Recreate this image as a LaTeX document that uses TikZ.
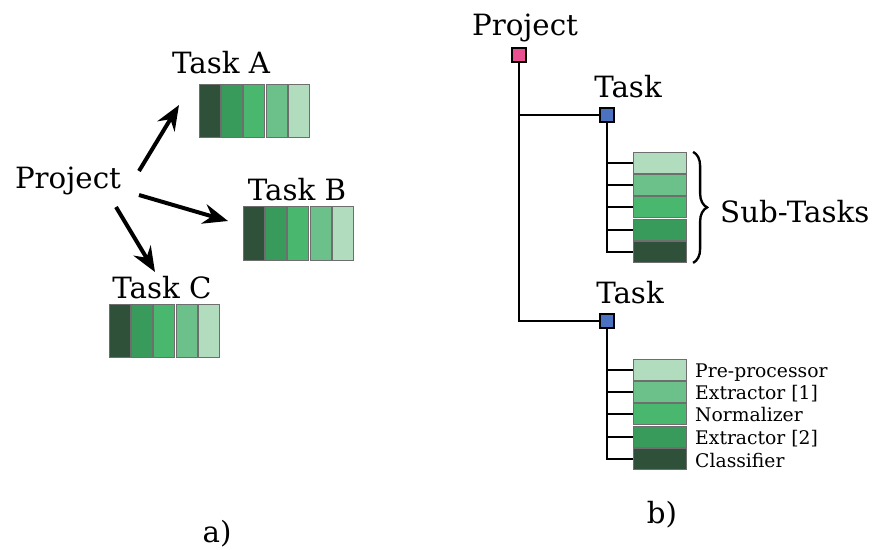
\documentclass[tikz,border=0pt]{standalone}
\usepackage{fontspec}
\setmainfont{DejaVu Serif}
\usetikzlibrary{arrows.meta,decorations.pathreplacing}

\definecolor{gA}{HTML}{2F5039}
\definecolor{gB}{HTML}{389B5B}
\definecolor{gC}{HTML}{49B86E}
\definecolor{gD}{HTML}{6CC18B}
\definecolor{gE}{HTML}{B1DCBD}
\definecolor{rim}{HTML}{6E6E6E}
\definecolor{pinkish}{HTML}{E8508F}
\definecolor{bluish}{HTML}{4A72C0}

\tikzset{
    bar/.style={draw=rim,line width=1pt,minimum width=0.63cm,minimum height=1.6cm,inner sep=0pt},
    sub/.style={draw=rim,line width=1pt,minimum width=1.6cm,minimum height=0.63cm,inner sep=0pt},
    big/.style={font=\fontsize{25}{30}\selectfont,anchor=base,inner sep=0pt},
    small/.style={font=\fontsize{16}{19}\selectfont,anchor=base west,inner sep=0pt},
    knot/.style={draw,line width=1.6pt,minimum size=0.42cm,inner sep=0pt},
    tree/.style={line width=1.7pt},
    push/.style={line width=3.4pt,-{Stealth[length=7.5mm,width=6mm,inset=2.5mm]}}
}

\begin{document}
\begin{tikzpicture}[x=0.03cm,y=-0.03cm]
    \useasboundingbox (0,0) rectangle (877,549);
    % a) flat view
    \node[big] (pa) at (68,188) {Project};
    \node[big] (la) at (221,73) {Task A};
    \node[big] (lb) at (297,200) {Task B};
    \node[big] (lc) at (162,298) {Task C};
    \foreach \c [count=\i] in {gA,gB,gC,gD,gE} {
        \node[bar,fill=\c] (A\i) at ({199+11+22.2*(\i-1)},111) {};
        \node[bar,fill=\c] (B\i) at ({243+11+22.2*(\i-1)},233.5) {};
        \node[bar,fill=\c] (C\i) at ({109+11+22.2*(\i-1)},331) {};
    }
    \coordinate (fa) at (139,171);
    \coordinate (ta) at (179,105);
    \coordinate (fb) at (139,195);
    \coordinate (tb) at (228,221);
    \coordinate (fc) at (116,207);
    \coordinate (tc) at (155,272);
    \draw[push] (fa) -- (ta);
    \draw[push] (fb) -- (tb);
    \draw[push] (fc) -- (tc);
    \node[big] (capa) at (217,542) {a)};

    % b) tree view
    \node[big] (pb) at (525,35) {Project};
    \node[knot,fill=pinkish] (pk) at (519,55) {};
    \node[big] (tk1) at (628,97) {Task};
    \node[knot,fill=bluish] (t1) at (607,115) {};
    \node[big] (tk2) at (630,303) {Task};
    \node[knot,fill=bluish] (t2) at (607,321) {};
    \draw[tree] (pk.south) |- (t1.west);
    \draw[tree] (pk.south) |- (t2.west);
    \foreach \c [count=\i] in {gE,gD,gC,gB,gA} {
        \node[sub,fill=\c] (s\i) at (660,{163+22.2*(\i-1)}) {};
        \node[sub,fill=\c] (u\i) at (660,{370+22.2*(\i-1)}) {};
        \draw[tree] (t1.south) |- (s\i.west);
        \draw[tree] (t2.south) |- (u\i.west);
    }
    \draw[line width=2pt,decorate,decoration={brace,amplitude=0.42cm}]
        ([xshift=5pt]s1.north east) -- ([xshift=5pt]s5.south east);
    \node[big,anchor=base west] (st) at (720,222) {Sub-Tasks};
    \node[small] (n1) at (695,377) {Pre-processor};
    \node[small] (n2) at (695,399) {Extractor [1]};
    \node[small] (n3) at (695,421) {Normalizer};
    \node[small] (n4) at (695,444) {Extractor [2]};
    \node[small] (n5) at (695,467) {Classifier};
    \node[big] (capb) at (662,523) {b)};
\end{tikzpicture}
\end{document}
